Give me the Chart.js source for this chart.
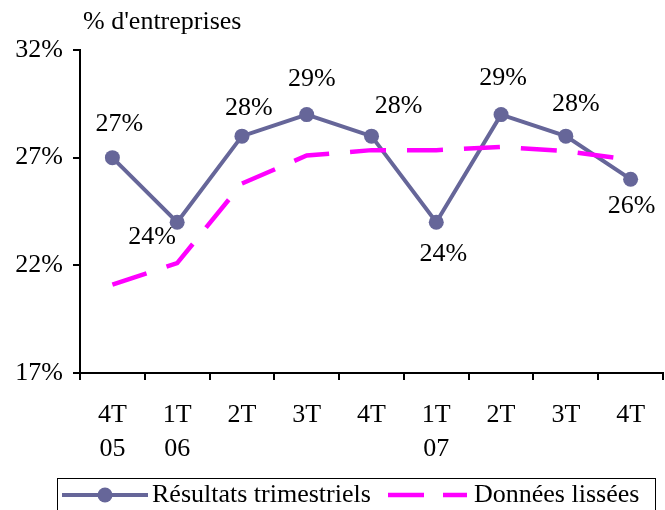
<!DOCTYPE html>
<html>
<head>
<meta charset="utf-8">
<script src="https://cdn.jsdelivr.net/npm/chart.js@4"></script>
<style>
  html, body { margin: 0; padding: 0; background: #fff; }
  #wrap { width: 665px; height: 510px; }
</style>
</head>
<body>
<div id="wrap"><canvas id="c" width="665" height="510"></canvas></div>
<script>
// Quarters (two-line tick labels)
const quarters = [["4T","05"],["1T","06"],["2T",""],["3T",""],["4T",""],["1T","07"],["2T",""],["3T",""],["4T",""]];
// Quarterly results, % of firms
const resultats = [27, 24, 28, 29, 28, 24, 29, 28, 26];
// Smoothed series, % of firms
const lissees = [21.1, 22.1, 25.8, 27.1, 27.35, 27.35, 27.5, 27.3, 26.9];
// Y axis bounds and step
const yMin = 17, yMax = 32, yStep = 5;

const labelsLegend = ["Résultats trimestriels", "Données lissées"];
const FONT = "'Liberation Serif', 'Times New Roman', serif";
const FS = 26;
const PURPLE = '#666699';
const MAGENTA = '#FF00FF';

// Pixel nudges for the value labels around each point
const labelOffsets = [[7,-33],[-25,15],[7,-28],[5,-35],[27,-30],[7,32],[2,-36],[10,-32],[1,27]];

const decorations = {
  id: 'decorations',
  afterDatasetsDraw(chart) {
    const ctx = chart.ctx;
    ctx.save();
    ctx.fillStyle = '#000';
    ctx.font = FS + 'px ' + FONT;
    ctx.textAlign = 'center';
    ctx.textBaseline = 'middle';
    const meta = chart.getDatasetMeta(1);
    meta.data.forEach((pt, i) => {
      const v = chart.data.datasets[1].data[i];
      const o = labelOffsets[i];
      ctx.fillText(Math.round(v) + '%', pt.x + o[0], pt.y + o[1]);
    });

    // axis caption
    ctx.textAlign = 'left';
    ctx.fillText("% d'entreprises", 83, 22);

    // legend
    ctx.strokeStyle = '#000';
    ctx.lineWidth = 1;
    ctx.strokeRect(57.5, 478.5, 598, 40);
    const ly = 495;
    ctx.strokeStyle = PURPLE;
    ctx.lineWidth = 4;
    ctx.beginPath(); ctx.moveTo(62, ly); ctx.lineTo(148, ly); ctx.stroke();
    ctx.fillStyle = PURPLE;
    ctx.beginPath(); ctx.arc(105, ly, 7.5, 0, Math.PI * 2); ctx.fill();
    ctx.strokeStyle = MAGENTA;
    ctx.lineWidth = 4.5;
    ctx.beginPath(); ctx.moveTo(388, ly); ctx.lineTo(424, ly); ctx.moveTo(443, ly); ctx.lineTo(467, ly); ctx.stroke();
    ctx.fillStyle = '#000';
    ctx.fillText(labelsLegend[0], 152, ly);
    ctx.fillText(labelsLegend[1], 474, ly);
    ctx.restore();
  }
};

new Chart(document.getElementById('c'), {
  type: 'line',
  data: {
    labels: quarters,
    datasets: [
      {
        label: labelsLegend[1],
        data: lissees,
        borderColor: MAGENTA,
        backgroundColor: MAGENTA,
        borderWidth: 4.5,
        borderDash: [36, 21],
        pointRadius: 0,
        tension: 0,
        fill: false
      },
      {
        label: labelsLegend[0],
        data: resultats,
        borderColor: PURPLE,
        backgroundColor: PURPLE,
        borderWidth: 4,
        pointRadius: 7.5,
        pointBorderWidth: 0,
        pointBackgroundColor: PURPLE,
        tension: 0,
        fill: false
      }
    ]
  },
  options: {
    responsive: false,
    animation: false,
    events: [],
    layout: { autoPadding: false, padding: { top: 50, right: 2, left: 0, bottom: 0 } },
    plugins: { legend: { display: false }, tooltip: { enabled: false }, title: { display: false } },
    scales: {
      x: {
        type: 'category',
        offset: true,
        border: { color: '#000', width: 2 },
        grid: { offset: true, drawOnChartArea: false, color: '#000', lineWidth: 2, tickLength: 7 },
        ticks: { color: '#000', font: { family: FONT, size: FS, lineHeight: 1.31 }, padding: 18, maxRotation: 0, autoSkip: false },
        afterFit(s) { s.height = 137; s.paddingLeft = 0; s.paddingRight = 0; }
      },
      y: {
        min: yMin, max: yMax,
        border: { color: '#000', width: 2 },
        grid: { drawOnChartArea: false, color: '#000', lineWidth: 2, tickLength: 7 },
        ticks: { stepSize: yStep, color: '#000', font: { family: FONT, size: FS }, padding: 10, callback: v => v + '%' },
        afterFit(s) { s.width = 80; s.paddingTop = 0; s.paddingBottom = 0; }
      }
    }
  },
  plugins: [decorations]
});
</script>
</body>
</html>
